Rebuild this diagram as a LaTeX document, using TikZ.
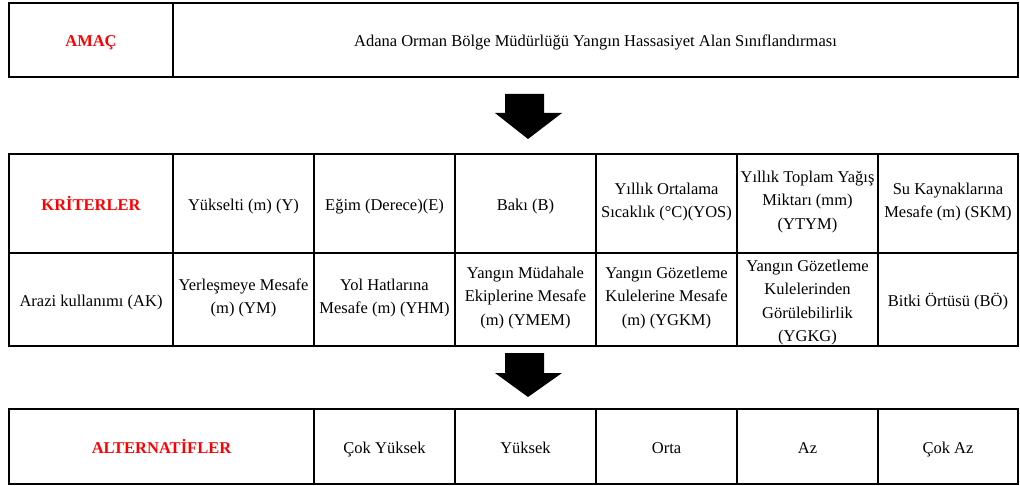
\documentclass[tikz,border=0pt]{standalone}
\usepackage{fontspec}
\setmainfont{Liberation Serif}
\newfontfamily\timesfont{Liberation Serif}
\definecolor{redtxt}{RGB}{255,0,0}
\newcommand\celltopstrut{\rule{0pt}{20pt}}
\newcommand\cellbotstrut{\rule[-6.5pt]{0pt}{6.5pt}}
\begin{document}
\begin{tikzpicture}[x=1pt,y=-1pt,
  cell/.style={draw=black,line width=2.2pt,inner sep=0pt,align=center,
    font=\timesfont\fontsize{16.5}{23.5}\selectfont,anchor=center,
    execute at begin node=\celltopstrut, execute at end node=\cellbotstrut},
  celltext/.style={cell,draw=none},
  headcell/.style={cell,text=redtxt,font=\timesfont\fontsize{16.5}{23.5}\selectfont\bfseries},
  blockarrow/.style={fill=black,draw=none},
  sz/.style 2 args={minimum width=#1pt,minimum height=#2pt}]
\useasboundingbox (0,0) rectangle (1020,486);
% top
\node[headcell,sz={164}{74}] (amac) at (91,40) {AMAÇ};
\node[cell,sz={845}{74}] (goal) at (595.5,40) {Adana Orman Bölge Müdürlüğü Yangın Hassasiyet Alan Sınıflandırması};
% arrow 1
\fill[blockarrow] (505,94) -- (544,94) -- (544,113) -- (562,113) -- (528,139) -- (495,113) -- (505,113) -- cycle;
% middle row 1
\node[headcell,sz={164}{99}] (krit) at (91,203.5) {KRİTERLER};
\node[cell,sz={141}{99}] (y) at (243.5,203.5) {Yükselti (m) (Y)};
\node[cell,sz={141}{99}] (e) at (384.5,203.5) {Eğim (Derece)(E)};
\node[cell,sz={141}{99}] (b) at (525.5,203.5) {Bakı (B)};
\node[cell,sz={141}{99}] (yos) at (666.5,203.5) {Yıllık Ortalama\\Sıcaklık (°C)(YOS)};
\node[cell,sz={141}{99}] (ytym) at (807.5,203.5) {Yıllık Toplam Yağış\\Miktarı (mm)\\(YTYM)};
\node[cell,sz={140}{99}] (skm) at (948,203.5) {Su Kaynaklarına\\Mesafe (m) (SKM)};
% middle row 2
\node[cell,sz={164}{93}] (ak) at (91,299.5) {Arazi kullanımı (AK)};
\node[cell,sz={141}{93}] (ym) at (243.5,299.5) {Yerleşmeye Mesafe\\(m) (YM)};
\node[cell,sz={141}{93}] (yhm) at (384.5,299.5) {Yol Hatlarına\\Mesafe (m) (YHM)};
\node[cell,sz={141}{93}] (ymem) at (525.5,299.5) {Yangın Müdahale\\Ekiplerine Mesafe\\(m) (YMEM)};
\node[cell,sz={141}{93}] (ygkm) at (666.5,299.5) {Yangın Gözetleme\\Kulelerine Mesafe\\(m) (YGKM)};
\node[cell,sz={141}{93}] (ygkg) at (807.5,299.5) {};
\node[celltext] (ygkgtext) at (807.5,304) {Yangın Gözetleme\\Kulelerinden\\Görülebilirlik\\(YGKG)};
\node[cell,sz={140}{93}] (bo) at (948,299.5) {Bitki Örtüsü (BÖ)};
% arrow 2
\fill[blockarrow] (505,353) -- (544,353) -- (544,373) -- (562,373) -- (528,397) -- (495,373) -- (505,373) -- cycle;
% bottom
\node[headcell,sz={305}{75}] (alt) at (161.5,446.5) {ALTERNATİFLER};
\node[cell,sz={141}{75}] (cy) at (384.5,446.5) {Çok Yüksek};
\node[cell,sz={141}{75}] (yu) at (525.5,446.5) {Yüksek};
\node[cell,sz={141}{75}] (or) at (666.5,446.5) {Orta};
\node[cell,sz={141}{75}] (az) at (807.5,446.5) {Az};
\node[cell,sz={140}{75}] (caz) at (948,446.5) {Çok Az};
\end{tikzpicture}
\end{document}
